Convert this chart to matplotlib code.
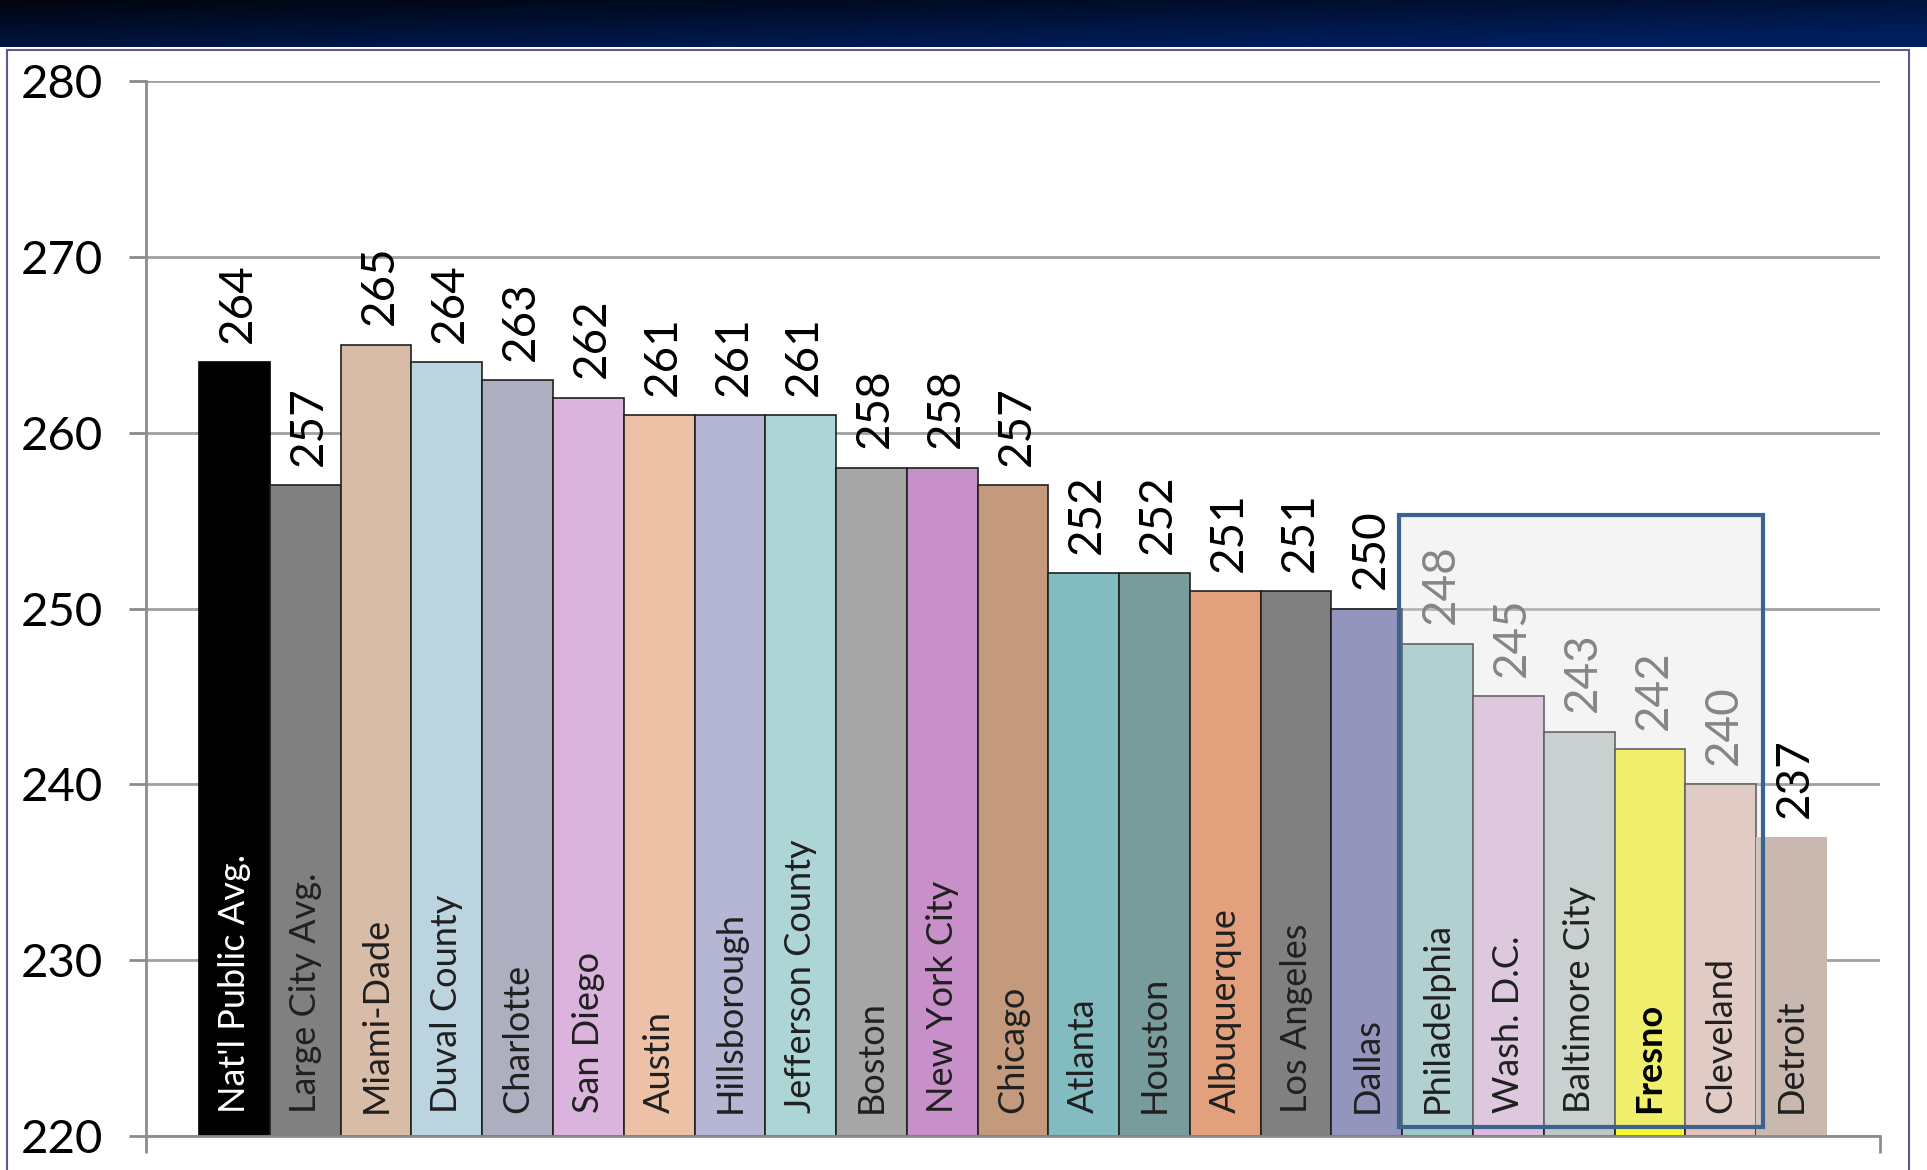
import numpy as np
import matplotlib.pyplot as plt
from matplotlib.patches import Rectangle

plt.rcParams['font.family'] = ['Lato', 'DejaVu Sans']

districts = ["Nat'l Public Avg.", "Large City Avg.", "Miami-Dade", "Duval County",
             "Charlotte", "San Diego", "Austin", "Hillsborough", "Jefferson County",
             "Boston", "New York City", "Chicago", "Atlanta", "Houston",
             "Albuquerque", "Los Angeles", "Dallas", "Philadelphia", "Wash. D.C.",
             "Baltimore City", "Fresno", "Cleveland", "Detroit"]
scores = [264, 257, 265, 264, 263, 262, 261, 261, 261, 258, 258, 257,
          252, 252, 251, 251, 250, 248, 245, 243, 242, 240, 237]
bar_colors = ['#000000', '#808080', '#d9bca8', '#bcd3e0', '#adaec0', '#dab4dc',
              '#ecc1a6', '#b5b6d4', '#aed5d6', '#a6a6a6', '#c890c8', '#c49a7c',
              '#82bcc0', '#789c9c', '#e2a07c', '#808080', '#9495bd', '#9cc8c8',
              '#dcbcdc', '#bcc8c8', '#f8f830', '#e2c2b8', '#c8b8b0']
yticks = [220, 230, 240, 250, 260, 270, 280]

fig = plt.figure(figsize=(19.27, 11.70), dpi=100)

# dark banner on top
bn = fig.add_axes([0, 1 - 47 / 1170, 1, 47 / 1170])
grad = np.linspace(0, 1, 200)
gx, gy = np.meshgrid(grad, np.linspace(0, 1, 20))
t = np.clip(0.55 * gx + 0.6 * gy, 0, 1)
c0 = np.array([0.0, 0.02, 0.06])
c1 = np.array([0.0, 0.12, 0.37])
img = c0[None, None, :] * (1 - t[..., None]) + c1[None, None, :] * t[..., None]
bn.imshow(img, aspect='auto', extent=[0, 1, 0, 1], origin='upper')
bn.axis('off')

# thin panel frame
fr = fig.add_axes([7 / 1927, -0.1, (1909 - 7) / 1927, 1.1 - 50 / 1170])
fr.set_xticks([])
fr.set_yticks([])
fr.patch.set_alpha(0)
for s in fr.spines.values():
    s.set_color('#5a5a96')
    s.set_linewidth(1.5)

ax = fig.add_axes([146 / 1927, 1 - 1136 / 1170, (1880 - 146) / 1927, (1136 - 81) / 1170])
x = np.arange(len(districts))
bars = ax.bar(x, np.array(scores) - 220, bottom=220, width=1.0, color=bar_colors,
              edgecolor='#202020', linewidth=1.2, zorder=2)
bars[0].set_edgecolor('#000000')
bars[-1].set_linewidth(0)

for i, (name, v) in enumerate(zip(districts, scores)):
    ax.text(i + 0.05, v + 1.1, str(v), rotation=90, ha='center', va='bottom',
            fontsize=33, color='black' if i < 17 or i > 21 else '#555555', zorder=3)
    bold = name == 'Fresno'
    ax.text(i, 221.3, name, rotation=90, ha='center', va='bottom',
            fontsize=26, zorder=6,
            color='white' if i == 0 else ('black' if bold else '#202020'),
            fontweight='bold' if bold else 'normal')

# highlight box over the lower-performing group
ax.add_patch(Rectangle((16.45, 220.5), 5.15, 255.3 - 220.5, facecolor='#e0e0e0',
                       alpha=0.35, edgecolor='none', zorder=4))
ax.add_patch(Rectangle((16.45, 220.5), 5.15, 255.3 - 220.5, facecolor='none',
                       edgecolor='#3e6290', linewidth=3, zorder=5))

ax.set_ylim(220, 280)
ax.set_xlim(-1.25, 23.25)
ax.set_yticks(yticks)
ax.set_yticklabels([str(v) for v in yticks], fontsize=34)
ax.set_xticks([-1.25, 23.25])
ax.set_xticklabels([])
ax.tick_params(axis='both', direction='out', length=12, width=2, color='#8c8c8c', pad=19)
ax.grid(axis='y', color='#a0a0a0', linewidth=2, zorder=0)
ax.set_axisbelow(True)
for s in ['top', 'right']:
    ax.spines[s].set_visible(False)
for s in ['left', 'bottom']:
    ax.spines[s].set_color('#8c8c8c')
    ax.spines[s].set_linewidth(2)

fig.savefig('out.png', dpi=100)
